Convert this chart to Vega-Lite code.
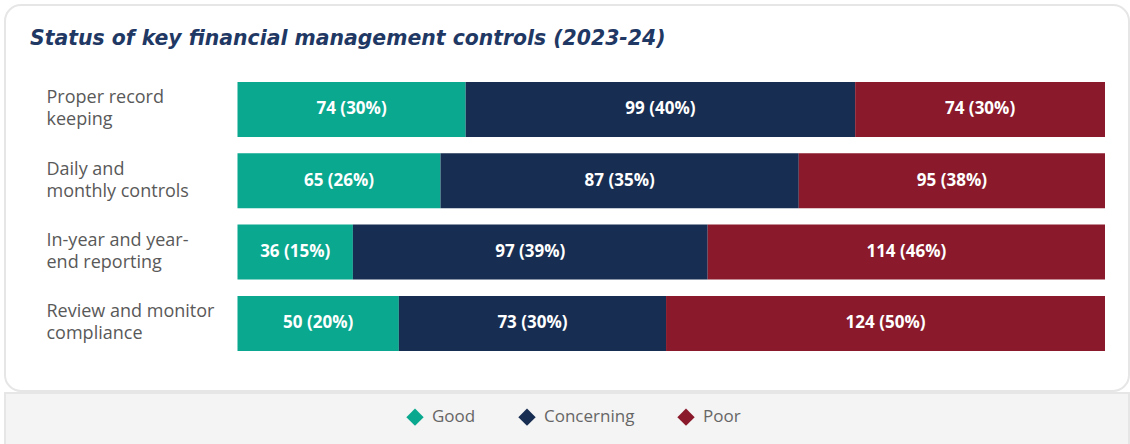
{
  "$schema": "https://vega.github.io/schema/vega-lite/v6.json",
  "background": "white",
  "padding": {"left": 4, "top": 4, "right": 0, "bottom": 0},
  "config": {"view": {"stroke": null}, "font": "Open Sans"},
  "datasets": {
    "controls": [
      {"control": "Proper record|keeping", "status": "Good", "o": 1, "share": 26.3, "label": "74 (30%)"},
      {"control": "Proper record|keeping", "status": "Concerning", "o": 2, "share": 44.9, "label": "99 (40%)"},
      {"control": "Proper record|keeping", "status": "Poor", "o": 3, "share": 28.8, "label": "74 (30%)"},
      {"control": "Daily and|monthly controls", "status": "Good", "o": 1, "share": 23.4, "label": "65 (26%)"},
      {"control": "Daily and|monthly controls", "status": "Concerning", "o": 2, "share": 41.3, "label": "87 (35%)"},
      {"control": "Daily and|monthly controls", "status": "Poor", "o": 3, "share": 35.3, "label": "95 (38%)"},
      {"control": "In-year and year-|end reporting", "status": "Good", "o": 1, "share": 13.3, "label": "36 (15%)"},
      {"control": "In-year and year-|end reporting", "status": "Concerning", "o": 2, "share": 40.9, "label": "97 (39%)"},
      {"control": "In-year and year-|end reporting", "status": "Poor", "o": 3, "share": 45.8, "label": "114 (46%)"},
      {"control": "Review and monitor|compliance", "status": "Good", "o": 1, "share": 18.6, "label": "50 (20%)"},
      {"control": "Review and monitor|compliance", "status": "Concerning", "o": 2, "share": 30.8, "label": "73 (30%)"},
      {"control": "Review and monitor|compliance", "status": "Poor", "o": 3, "share": 50.6, "label": "124 (50%)"}
    ]
  },
  "spacing": 0,
  "vconcat": [
    {
      "width": 1124,
      "height": 386,
      "view": {"fill": "white", "stroke": "#e6e6e6", "strokeWidth": 2, "cornerRadius": 16},
      "title": {
        "text": "Status of key financial management controls (2023-24)",
        "anchor": "start", "frame": "group", "orient": "top",
        "offset": -54, "baseline": "middle", "dx": 25,
        "font": "DejaVu Sans", "fontSize": 20.4, "fontWeight": "bold", "fontStyle": "italic", "color": "#1f3864"
      },
      "data": {"name": "controls"},
      "transform": [
        {"stack": "share", "groupby": ["control"], "sort": [{"field": "o"}], "as": ["x0", "x1"]},
        {"calculate": "(datum.x0 + datum.x1) / 2", "as": "xm"}
      ],
      "encoding": {
        "y": {
          "field": "control", "type": "nominal", "sort": null,
          "scale": {"range": [68.8, 354.1], "paddingInner": 0.229, "paddingOuter": 0.1145},
          "axis": {
            "title": null, "orient": "left", "offset": -41, "domain": false, "ticks": false, "tickSize": 0,
            "labelPadding": 0, "labelAlign": "left", "labelBaseline": "middle", "labelOffset": -11,
            "labelExpr": "split(datum.value, '|')", "labelLineHeight": 22,
            "labelFont": "Open Sans", "labelFontSize": 18, "labelColor": "#595959", "labelLimit": 300
          }
        }
      },
      "layer": [
        {
          "mark": {"type": "bar"},
          "encoding": {
            "x": {"field": "x0", "type": "quantitative", "scale": {"domain": [0, 100], "range": [232.5, 1100], "nice": false, "zero": false}, "axis": null},
            "x2": {"field": "x1"},
            "color": {
              "field": "status", "type": "nominal",
              "scale": {"domain": ["Good", "Concerning", "Poor"], "range": ["#0aa88f", "#172d51", "#8a1a2b"]},
              "legend": {
                "title": null, "orient": "none", "direction": "horizontal",
                "legendX": 401, "legendY": 403,
                "symbolType": "diamond", "symbolSize": 300, "symbolStrokeWidth": 0,
                "labelFont": "Open Sans", "labelFontSize": 17, "labelColor": "#666666",
                "labelOffset": 8, "columnPadding": 42
              }
            }
          }
        },
        {
          "mark": {"type": "text", "color": "white", "font": "Open Sans", "fontSize": 17, "fontWeight": "bold", "baseline": "middle", "align": "center"},
          "encoding": {
            "x": {"field": "xm", "type": "quantitative"},
            "text": {"field": "label"}
          }
        }
      ]
    },
    {
      "width": 1124,
      "height": 56,
      "view": {"fill": "#f4f4f4", "stroke": "#e6e6e6", "strokeWidth": 2, "cornerRadius": 0},
      "data": {"values": [{"t": ""}]},
      "mark": {"type": "text"},
      "encoding": {"text": {"field": "t"}}
    }
  ]
}
